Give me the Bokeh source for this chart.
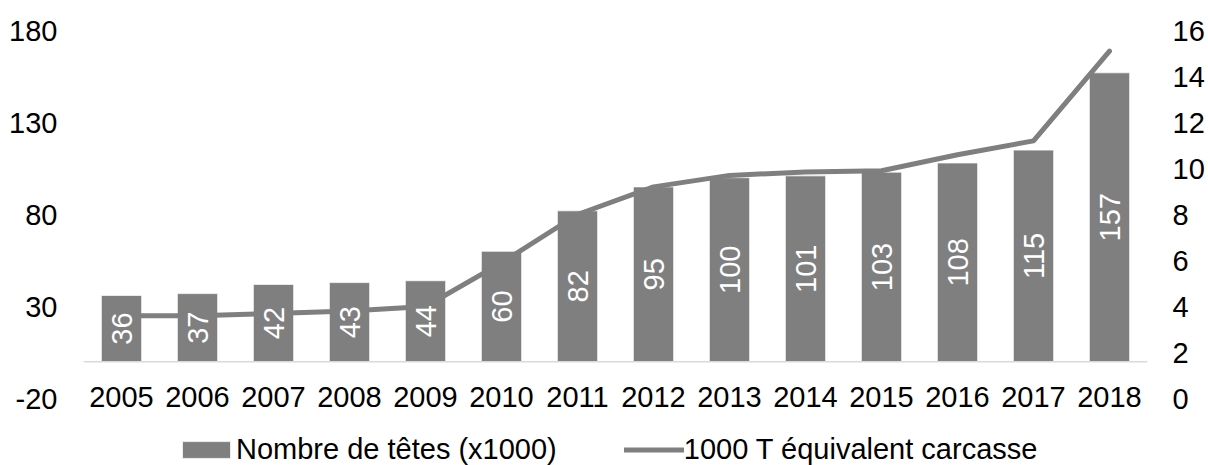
import math
from bokeh.plotting import figure
from bokeh.models import (ColumnDataSource, FactorRange, Range1d, LinearAxis, FixedTicker,
                          Span, Legend, LegendItem)
from bokeh.core.properties import value
from bokeh.embed import file_html
from bokeh.resources import INLINE

# ---- data ----
years = ["2005", "2006", "2007", "2008", "2009", "2010", "2011",
         "2012", "2013", "2014", "2015", "2016", "2017", "2018"]
heads = [36, 37, 42, 43, 44, 60, 82, 95, 100, 101, 103, 108, 115, 157]
carcass = [3.6, 3.6, 3.7, 3.8, 4.0, 5.9, 8.0, 9.2, 9.7, 9.85, 9.9, 10.6, 11.2, 15.1]
left_ticks = [-20, 30, 80, 130, 180]
right_ticks = [0, 2, 4, 6, 8, 10, 12, 14, 16]
bar_label = "Nombre de têtes (x1000)"
line_label = "1000 T équivalent carcasse"

FONT = "Liberation Sans"
FS = "29px"
GRAY = "#7F7F7F"

# plot frame spans 30..465 px vertically; tick -20 / 0 sit at 398 px
# left axis: 368 px for 200 units; right axis: 368 px for 16 units
left_lo = 180 - 435 * 200 / 368
right_lo = 16 - 435 * 16 / 368

src = ColumnDataSource(dict(
    year=years,
    heads=heads,
    half=[h / 2 for h in heads],
    txt=[str(h) for h in heads],
    carcass=carcass,
))

p = figure(width=1208, height=465,
           x_range=FactorRange(*years), y_range=Range1d(left_lo, 180),
           output_backend="svg", toolbar_location=None,
           min_border_left=83, min_border_right=61,
           min_border_top=30, min_border_bottom=0)
p.extra_y_ranges = {"right": Range1d(right_lo, 16)}
p.outline_line_color = None
p.grid.visible = False
p.background_fill_color = "white"
p.border_fill_color = "white"

# baseline at 0
p.add_layout(Span(location=0, dimension="width", line_color="#D9D9D9", line_width=1.5))

bars = p.vbar(x="year", top="heads", bottom=0, width=0.53, source=src,
              fill_color=GRAY, line_color="white", line_width=1, line_alpha=0.7)

line = p.line(x="year", y="carcass", source=src, y_range_name="right",
              line_color=GRAY, line_width=5, line_join="round", line_cap="round")

p.text(x="year", y="half", text="txt", source=src, angle=math.pi / 2,
       text_color="white", text_font=value(FONT), text_font_size=FS,
       text_align="center", text_baseline="middle")

# left axis
yl = p.yaxis[0]
yl.ticker = FixedTicker(ticks=left_ticks)
yl.major_label_overrides = {-20: "-20"}
yl.axis_line_color = None
yl.major_tick_line_color = None
yl.minor_tick_line_color = None
yl.major_tick_out = 0
yl.major_tick_in = 0
yl.major_label_standoff = 26
yl.major_label_text_font = FONT
yl.major_label_text_font_size = FS
yl.major_label_text_color = "black"

# right axis
yr = LinearAxis(y_range_name="right", ticker=FixedTicker(ticks=right_ticks))
yr.axis_line_color = None
yr.major_tick_line_color = None
yr.minor_tick_line_color = None
yr.major_tick_out = 0
yr.major_tick_in = 0
yr.major_label_standoff = 25
yr.major_label_text_font = FONT
yr.major_label_text_font_size = FS
yr.major_label_text_color = "black"
p.add_layout(yr, "right")

# category axis, drawn along the zero line
xa = p.xaxis[0]
xa.fixed_location = 0
xa.axis_line_color = None
xa.major_tick_line_color = None
xa.minor_tick_line_color = None
xa.major_tick_out = 0
xa.major_tick_in = 0
xa.major_label_standoff = 25
xa.major_label_text_font = FONT
xa.major_label_text_font_size = FS
xa.major_label_text_color = "black"

legend = Legend(items=[LegendItem(label=bar_label, renderers=[bars]),
                       LegendItem(label=line_label, renderers=[line])],
                orientation="horizontal", location=(93, -1),
                glyph_width=60, glyph_height=21, label_standoff=0,
                spacing=67, padding=0, margin=0,
                border_line_color=None, background_fill_alpha=0,
                label_text_font=FONT, label_text_font_size=FS,
                label_text_color="black")
p.add_layout(legend, "center")

open("out.html", "w").write(file_html(p, INLINE))
